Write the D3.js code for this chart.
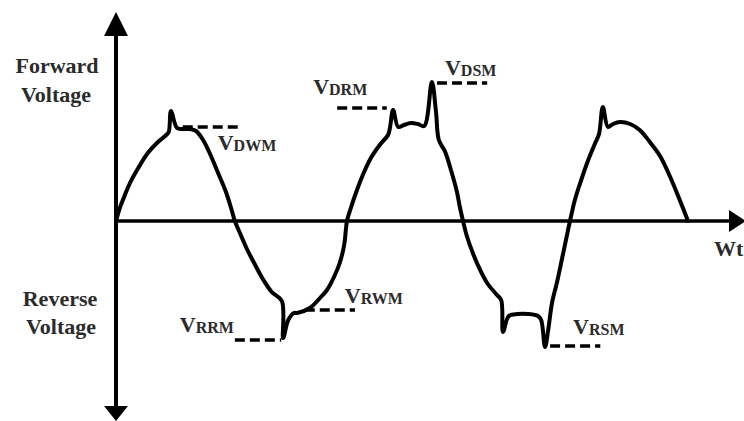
<!DOCTYPE html>
<html><head><meta charset="utf-8">
<script src="https://cdn.jsdelivr.net/npm/d3@7"></script>
<style>body{margin:0;background:#fff}svg{display:block}</style>
</head><body>
<svg id="c" width="744" height="421"></svg>
<script>
// Waveform: phase (degrees of wt) and voltage (arbitrary units)
const waveT = [0,6,14,22,35,50,66,79,83,86.5,96,105,116,126,137,148,160,173,182,187,
  195,206,219,231,245,261,263,271,280,285,305,321,332,343,352,359,363.5,
  370,378,389,401,415,428,431,436,444,453,464,475,485,497,503.5,508,518,527,536.5,541,546,
  552,562,573,585,598,606,609,618,632,648,664,669,675,680,686,694,702,708,714.3,
  722,732,743,754,760,766,774,782,793,809,824,840,856,872,887,900];
const waveV = [0,13,26,38,53,68,79,86,89,110,93,92,92,90,81,67,49,29,11,0,
  -12,-28,-44,-58,-71,-80,-117,-99,-92,-92,-87,-77,-69,-56,-42,-24,0,
  14,29,47,63,76,86,93,111,94,96,98,97,95,139,109,81,69,51,29,14,0,
  -15,-33,-49,-63,-73,-79,-111,-95,-93,-93,-95,-99,-126,-109,-82,-61,-37,-19,0,
  21,41,61,78,87,114,94,97,99,97,91,79,65,44,21,0];

// Rated voltage levels (dashed markers)
const levelNames = ["DWM","DRM","DSM","RWM","RRM","RSM"];
const levelValue = [94,113,138,-89,-119,-125];
const levelStart = [105,348,505,297,187,683];
const levelEnd   = [192,426,584,376,260,762];

const yAxisLabelsTop = ["Forward","Voltage"];
const yAxisLabelsBottom = ["Reverse","Voltage"];
const xAxisLabel = "Wt";

// label offsets (layout) relative to dash start, in px
const labelOffset = {DWM:[35,23],DRM:[-24,-14],DSM:[8,-8],RWM:[40,-7],RRM:[-55,-8],RSM:[23,-12]};

const svg = d3.select("#c");
const x = d3.scaleLinear().domain([0,900]).range([116,688]);
const y = d3.scaleLinear().domain([-200,210]).range([421,11]);

const x0 = x(0), y0 = y(0);
const ink = "#000";

// axes
svg.append("line").attr("x1",x0).attr("x2",x0).attr("y1",30).attr("y2",410)
  .attr("stroke",ink).attr("stroke-width",4);
svg.append("line").attr("x1",x0).attr("x2",732).attr("y1",y0).attr("y2",y0)
  .attr("stroke",ink).attr("stroke-width",3.5);
svg.append("path").attr("d",`M${x0},12L${x0-12},36L${x0+12},36Z`).attr("fill",ink);
svg.append("path").attr("d",`M${x0},421L${x0-12},406L${x0+12},406Z`).attr("fill",ink);
svg.append("path").attr("d",`M746,${y0}L729,${y0-11}L729,${y0+11}Z`).attr("fill",ink);

// waveform
const pts = waveT.map((t,i)=>[t,waveV[i]]);
const line = d3.line().x(d=>x(d[0])).y(d=>y(d[1])).curve(d3.curveCatmullRom.alpha(0.5));
svg.append("path").attr("d",line(pts)).attr("fill","none").attr("stroke",ink)
  .attr("stroke-width",4).attr("stroke-linejoin","round").attr("stroke-linecap","round");

// dashed levels
const txtCol = "#2b2b2b";
levelNames.forEach((n,i)=>{
  const xs = x(levelStart[i]), xe = x(levelEnd[i]), yy = y(levelValue[i]);
  svg.append("line").attr("x1",xs).attr("x2",xe).attr("y1",yy).attr("y2",yy)
    .attr("stroke",ink).attr("stroke-width",3.5).attr("stroke-dasharray","10,5");
  const o = labelOffset[n];
  const t = svg.append("text").attr("x",xs+o[0]).attr("y",yy+o[1])
    .attr("font-family","'Liberation Serif','Times New Roman',serif").attr("fill",txtCol).attr("font-weight","bold");
  t.append("tspan").attr("font-size",22).text("V");
  t.append("tspan").attr("font-size",16).attr("dy",1).text(n);
});

// axis labels
const lab = (s,cx,by)=>svg.append("text").attr("x",cx).attr("y",by).attr("text-anchor","middle")
  .attr("font-family","'Liberation Serif','Times New Roman',serif").attr("font-weight","bold")
  .attr("font-size",22).attr("fill",txtCol).text(s);
lab(yAxisLabelsTop[0],57,73); lab(yAxisLabelsTop[1],56,102);
lab(yAxisLabelsBottom[0],60,306); lab(yAxisLabelsBottom[1],61,334);
svg.append("text").attr("x",714).attr("y",256)
  .attr("font-family","'Liberation Serif','Times New Roman',serif").attr("font-weight","bold")
  .attr("font-size",22).attr("fill",txtCol).text(xAxisLabel);
</script>
</body></html>
